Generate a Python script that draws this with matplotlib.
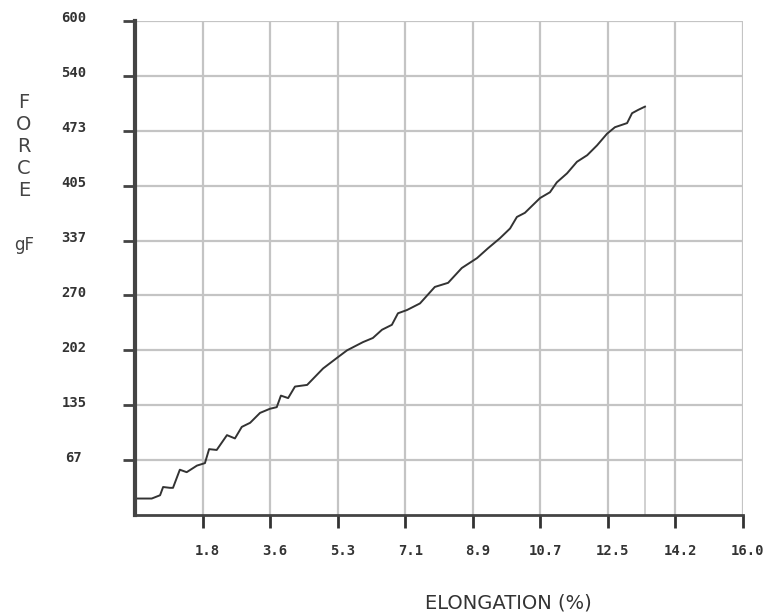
import matplotlib
matplotlib.use("Agg")
import matplotlib.pyplot as plt
import matplotlib.transforms as mtransforms

# ---- data ----
elongation = [0.04, 0.44, 0.66, 0.74, 0.92, 1.0, 1.18, 1.36, 1.63, 1.84, 1.95, 2.15,
              2.42, 2.63, 2.81, 3.03, 3.29, 3.55, 3.73, 3.84, 4.03, 4.21, 4.53, 4.95,
              5.32, 5.58, 6.0, 6.26, 6.5, 6.76, 6.92, 7.16, 7.5, 7.89, 8.24, 8.6, 9.0,
              9.29, 9.6, 9.87, 10.05, 10.26, 10.66, 10.92, 11.1, 11.37, 11.63, 11.9,
              12.16, 12.42, 12.63, 12.95, 13.08, 13.24, 13.42]
force = [20, 20, 24, 34, 33, 33, 55, 52, 60, 63, 80, 79,
         97, 93, 107, 112, 124, 129, 131, 145, 142, 156, 158, 178,
         191, 200, 210, 215, 225, 231, 245, 249, 257, 277, 282, 300, 312,
         324, 336, 348, 362, 367, 385, 392, 404, 415, 429, 437,
         449, 463, 471, 476, 488, 492, 496]

x_ticks = [16 / 9 * i for i in range(1, 10)]
x_tick_labels = ["1.8", "3.6", "5.3", "7.1", "8.9", "10.7", "12.5", "14.2", "16.0"]
y_ticks = [600 / 9 * i for i in range(1, 10)]
y_tick_labels = ["67", "135", "202", "270", "337", "405", "473", "540", "600"]

fig = plt.figure(figsize=(7.73, 6.16), dpi=100)
ax = fig.add_axes([135 / 773, 1 - 515 / 616, 608 / 773, 494 / 616])

ax.set_xlim(0, 16)
ax.set_ylim(0, 600)

grid_color = "#c4c4c4"
ax.set_xticks(x_ticks)
ax.set_yticks(y_ticks)
ax.grid(True, color=grid_color, linewidth=1.6, zorder=0)

# end-of-test marker line
ax.plot([elongation[-1], elongation[-1]], [0, force[-1]], color="#d0d0d0",
        linewidth=1.4, zorder=1)

ax.plot(elongation, force, color="#333333", linewidth=1.4, zorder=3)

for s in ["top", "right"]:
    ax.spines[s].set_visible(False)
ax.spines["left"].set_color("#444444")
ax.spines["left"].set_linewidth(3)
ax.spines["bottom"].set_color("#444444")
ax.spines["bottom"].set_linewidth(2)
ax.spines["left"].set_zorder(4)
ax.spines["bottom"].set_zorder(4)

tick_font = dict(family="DejaVu Sans Mono", weight="bold", size=10)
ax.set_xticklabels(x_tick_labels, color="#333333", **tick_font)
ax.set_yticklabels(y_tick_labels, color="#333333", ha="center", **tick_font)
ax.tick_params(axis="x", direction="out", length=9, width=2, color="#333333", pad=12)
ax.tick_params(axis="y", direction="out", length=9, width=2, color="#444444", pad=35)

# shift y tick labels slightly up as in the reference
offset = mtransforms.ScaledTranslation(0, 4 / 100, fig.dpi_scale_trans)
for lbl in ax.get_yticklabels():
    lbl.set_transform(lbl.get_transform() + offset)
offset_x = mtransforms.ScaledTranslation(5 / 100, 0, fig.dpi_scale_trans)
for lbl in ax.get_xticklabels():
    lbl.set_transform(lbl.get_transform() + offset_x)

ax.set_xlabel("ELONGATION (%)", fontsize=14, color="#333333", family="DejaVu Sans")
ax.xaxis.set_label_coords((508 - 135) / 608, (515 - 603) / 494)
ax.xaxis.label.set_verticalalignment("center")

fig.text(24 / 773, 1 - 146 / 616, "F\nO\nR\nC\nE", fontsize=14, color="#444444",
         ha="center", va="center", linespacing=1.2, family="DejaVu Sans")
fig.text(24 / 773, 1 - 245 / 616, "gF", fontsize=12, color="#444444",
         ha="center", va="center", family="DejaVu Sans")

fig.savefig("out.png", dpi=100, facecolor="white")
